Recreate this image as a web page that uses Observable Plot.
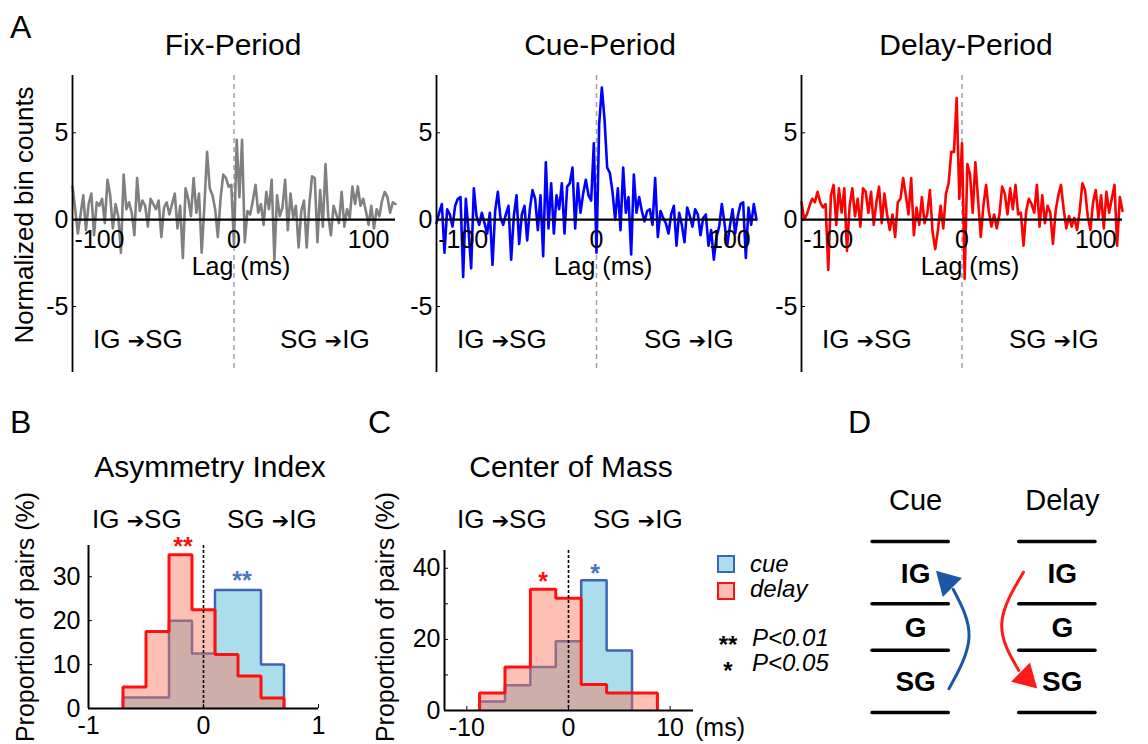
<!DOCTYPE html>
<html><head><meta charset="utf-8">
<script src="https://cdn.jsdelivr.net/npm/d3@7"></script>
<script src="https://cdn.jsdelivr.net/npm/@observablehq/plot@0.6"></script>
<style>
body{margin:0;background:#fff;}
#fig{position:relative;width:1148px;height:744px;overflow:hidden;background:#fff;font-family:"Liberation Sans",Arial,Helvetica,sans-serif;color:#000;}
.lbl{position:absolute;white-space:nowrap;line-height:1;}
.arr{font-family:"DejaVu Sans",sans-serif;font-size:0.8em;}
.sq{position:absolute;box-sizing:border-box;width:18px;height:18px;border:2px solid;}
</style></head><body><div id="fig"></div>
<script>
// ---------------- DATA ----------------
const lags = [-120,-118,-116,-114,-112,-110,-108,-106,-104,-102,-100,-98,-96,-94,-92,-90,-88,-86,-84,-82,-80,-78,-76,-74,-72,-70,-68,-66,-64,-62,-60,-58,-56,-54,-52,-50,-48,-46,-44,-42,-40,-38,-36,-34,-32,-30,-28,-26,-24,-22,-20,-18,-16,-14,-12,-10,-8,-6,-4,-2,0,2,4,6,8,10,12,14,16,18,20,22,24,26,28,30,32,34,36,38,40,42,44,46,48,50,52,54,56,58,60,62,64,66,68,70,72,74,76,78,80,82,84,86,88,90,92,94,96,98,100,102,104,106,108,110,112,114,116,118,120];
const fixCounts = [1.9,0.6,-0.8,0.3,1.4,-0.6,0.9,1.5,-0.9,1.0,
 0.8,1.2,-0.2,2.3,1.4,-0.5,0.9,0.2,-1.9,2.6,
 0.6,1.0,0.4,-0.9,2.4,0.5,1.1,0.8,-0.4,1.2,
 0.9,0.6,1.1,-1.0,0.7,1.0,0.3,0.9,1.5,-0.5,
 0.8,-2.2,1.8,1.2,0.2,2.4,0.4,1.5,-1.9,0.8,
 3.9,1.8,1.4,0.6,-1.0,1.2,2.6,2.4,1.9,2.0,
 -1.5,4.6,1.3,4.6,-1.3,0.5,0.3,1.1,2.0,0.4,
 0.9,-0.3,1.6,0.6,2.3,-2.3,1.4,0.2,0.7,2.3,
 -0.6,1.5,0.1,0.8,-1.6,0.5,1.1,-1.6,0.9,2.5,
 2.4,-1.3,1.7,-0.4,3.2,0.2,-0.9,0.8,0.3,-0.2,
 1.6,-0.4,0.6,0.1,1.9,0.9,1.9,0.8,1.2,0.5,
 -0.3,0.8,-0.5,0.6,0.2,1.1,1.6,1.3,0.4,1.0,
 0.9];
const cueCounts = [-0.2,0.4,0.9,-1.9,0.6,0.3,-0.4,0.8,1.2,1.3,
 -3.3,1.2,-0.6,-2.8,1.8,0.2,-0.3,0.4,-0.2,-0.8,
 0.4,-2.6,0.5,1.6,0.1,-0.3,0.3,0.8,-2.3,0.2,
 1.4,-1.4,0.3,0.8,-1.2,0.6,1.7,1.2,-0.6,1.4,
 -2.1,3.3,-0.5,2.1,-0.8,1.4,0.6,2.1,-0.8,1.9,
 2.1,3.0,-0.5,2.1,0.4,1.5,2.3,1.4,1.1,4.4,
 -1.9,5.5,7.6,5.8,3.0,2.7,1.6,0.0,1.8,-0.6,
 3.0,0.4,1.3,-2.0,2.6,0.4,1.3,0.5,-0.1,0.5,
 0.6,-0.3,2.4,-1.0,0.5,0.1,-0.2,-0.8,0.3,0.8,
 -1.5,0.4,-0.3,-1.3,0.7,0.2,-0.4,0.6,0.3,-0.9,
 0.1,0.3,-1.5,-0.6,-2.3,-1.0,-0.4,0.9,-0.2,-1.5,
 -0.4,0.6,-0.8,0.2,0.9,1.0,-2.2,0.7,-0.3,0.9,
 0.0];
const delayCounts = [1.0,0.0,0.3,0.8,1.2,1.0,1.6,1.0,0.7,0.9,
 -2.9,1.4,2.0,-0.3,1.8,0.4,1.8,-1.8,0.8,1.8,
 0.2,1.2,-0.4,1.8,1.6,0.4,1.6,-0.3,1.0,1.9,
 -0.2,1.5,0.3,-0.6,0.3,-1.0,1.0,1.2,2.4,1.4,
 0.3,2.4,-0.9,0.7,-0.3,1.3,-0.2,0.3,1.7,-0.7,
 -1.7,-0.6,0.8,-0.5,1.5,2.1,3.9,3.9,7.0,1.2,
 4.4,-3.4,3.2,2.6,0.4,3.3,1.2,-1.0,0.8,2.0,
 0.5,-0.4,0.3,-0.5,0.3,1.9,1.5,0.3,1.8,0.6,
 2.0,0.3,0.4,-1.5,0.5,1.2,0.9,0.4,2.0,-0.4,
 1.4,-0.2,0.8,0.4,-1.4,0.5,1.4,2.0,0.6,-0.5,
 0.2,-0.4,0.1,-0.6,0.5,2.1,1.7,0.2,-0.6,1.0,
 1.7,0.1,1.4,-0.5,1.6,0.4,1.2,2.0,-1.5,1.3,
 0.5];
const lagTicks = [-100, 0, 100];
const countTicks = [-5, 0, 5];

const aiEdges = [-0.7,-0.5,-0.3,-0.1,0.1,0.3,0.5,0.7];
const aiCue   = [2.5,2.5,20,12.5,27,27,10];
const aiDelay = [4.9,17.5,35,22.5,12.3,7.4,2.4];
const aiXTicks = [-1, 0, 1];
const aiYTicks = [0, 10, 20, 30];

const comEdges = [-8.75,-6.25,-3.75,-1.25,1.25,3.75,6.25,8.75];
const comCue   = [2.5,7.1,12.2,19.5,36.6,16.9];
const comDelay = [4.9,12.2,34.1,31.6,7.3,4.9,4.9];
const comXTicks = [-10, 0, 10];
const comYTicks = [0, 10, 20, 30, 40];

const columns = ["Cue", "Delay"];
const layerNames = ["IG", "G", "SG"];
const layerBounds = [0, 1, 1.75, 2.75];

// ---------------- STYLE ----------------
const FONT = '"Liberation Sans", Arial, Helvetica, sans-serif';
const W = 1148, H = 744;
const fig = document.getElementById("fig");
const baseStyle = {position:"absolute", left:"0px", top:"0px", background:"transparent", overflow:"visible", fontFamily: FONT, fontSize:"25px"};
const cueFill = "#a9deea", cueStroke = "#4064b4";
const delayFill = "rgb(248,115,89)", delayStroke = "#ff1010";

// ---------------- PANEL A ----------------
const lagDomain = [-120, 120];
const countDomain = [-8.8, 8.3];
function panelA(vals, color, left, right) {
  const data = lags.map((x, i) => ({x, y: vals[i]}));
  return Plot.plot({
    width: W, height: H,
    marginLeft: left, marginRight: W - right, marginTop: 75, marginBottom: H - 372,
    style: baseStyle,
    x: {domain: lagDomain, axis: null},
    y: {domain: countDomain, axis: null},
    marks: [
      Plot.ruleX([0], {stroke: "#a0a0a0", strokeDasharray: "5,4", strokeWidth: 1.5}),
      Plot.line(data, {x: "x", y: "y", stroke: color, strokeWidth: 2.6, strokeLinejoin: "round"}),
      Plot.ruleY([0], {stroke: "#000", strokeWidth: 2.2}),
      Plot.ruleX([lagDomain[0]], {stroke: "#000", strokeWidth: 1.8}),
      Plot.axisY(countTicks, {tickSize: -4, tickPadding: 8, fontSize: 25, label: null, tickFormat: d => String(d)}),
      Plot.text(lagTicks, {x: d => d, y: 0, text: d => String(d), lineAnchor: "bottom", dy: 28, fontSize: 25})
    ]
  });
}
fig.appendChild(panelA(fixCounts, "#808080", 72, 395));
fig.appendChild(panelA(cueCounts, "#0000ff", 436, 756));
fig.appendChild(panelA(delayCounts, "#ff0000", 801, 1122));

// ---------------- PANELS B & C ----------------
function stairs(edges, values) {
  const pts = [{x: edges[0], y: 0}];
  values.forEach((v, i) => pts.push({x: edges[i], y: v}));
  pts.push({x: edges[values.length], y: values[values.length - 1]});
  pts.push({x: edges[values.length], y: 0});
  return pts;
}
function histPanel(o) {
  const c = stairs(o.edges, o.cue), d = stairs(o.edges, o.delay);
  return Plot.plot({
    width: W, height: H,
    marginLeft: o.left, marginRight: W - o.right, marginTop: o.top, marginBottom: H - o.bottom,
    style: baseStyle,
    x: {domain: o.xDomain, axis: null},
    y: {domain: o.yDomain, axis: null},
    marks: [
      Plot.areaY(c, {x: "x", y: "y", curve: "step-after", fill: cueFill}),
      Plot.lineY(c, {x: "x", y: "y", curve: "step-after", stroke: cueStroke, strokeWidth: 2.5, strokeLinejoin: "miter", strokeLinecap: "butt"}),
      Plot.areaY(d, {x: "x", y: "y", curve: "step-after", fill: delayFill, fillOpacity: 0.45}),
      Plot.lineY(d, {x: "x", y: "y", curve: "step-after", stroke: delayStroke, strokeWidth: 3, strokeLinejoin: "miter", strokeLinecap: "butt"}),
      Plot.ruleX([0], {stroke: "#000", strokeDasharray: "3,2", strokeWidth: 1.6}),
      Plot.ruleX([o.xDomain[0]], {stroke: "#000", strokeWidth: 2}),
      Plot.ruleY([0], {stroke: "#000", strokeWidth: 2}),
      Plot.axisY(o.yTicks, {tickSize: -4, tickPadding: o.yPad, fontSize: 25, label: null, tickFormat: o.yFormat}),
      Plot.axisX(o.xTicks, {tickSize: -4, tickPadding: 12, fontSize: 25, label: null, tickFormat: d => String(d)})
    ]
  });
}
fig.appendChild(histPanel({edges: aiEdges, cue: aiCue, delay: aiDelay, left: 88, right: 318, top: 545, bottom: 708,
  xDomain: [-1, 1], yDomain: [0, 37.1], xTicks: aiXTicks, yTicks: aiYTicks, yPad: 12, yFormat: d => String(d)}));
fig.appendChild(histPanel({edges: comEdges, cue: comCue, delay: comDelay, left: 444, right: 693, top: 550, bottom: 710,
  xDomain: [-12.2, 12.3], yDomain: [0, 45], xTicks: comXTicks, yTicks: comYTicks, yPad: 8, yFormat: d => d % 20 === 0 ? String(d) : ""}));

// ---------------- PANEL D ----------------
const half = 0.26;
const boundRules = columns.flatMap((c, ci) => layerBounds.map(b => ({c: ci, y: b})));
const layerLabels = columns.flatMap((c, ci) => layerNames.map((n, li) => ({c: ci, name: n, y: (layerBounds[li] + layerBounds[li + 1]) / 2})));
const cueArrow = [{x: 0.261, y: 2.368}, {x: 0.398, y: 1.538}, {x: 0.290, y: 0.769}];
const cueHead = [{x: 0.247, y: 0.650}];
const delayArrow = [{x: 0.769, y: 0.494}, {x: 0.621, y: 1.323}, {x: 0.737, y: 2.074}];
const delayHead = [{x: 0.787, y: 2.188}];
fig.appendChild(Plot.plot({
  width: W, height: H,
  marginLeft: 872, marginRight: W - 1095, marginTop: 541, marginBottom: H - 712,
  style: baseStyle,
  x: {domain: [-half, 1 + half], axis: null},
  y: {domain: [0, 2.75], reverse: true, axis: null},
  marks: [
    Plot.ruleY(boundRules, {y: "y", x1: d => d.c - half, x2: d => d.c + half, stroke: "#000", strokeWidth: 3.5, strokeLinecap: "round"}),
    Plot.text(layerLabels, {x: "c", y: "y", text: "name", fontSize: 28, fontWeight: "bold", dx: 5, dy: 1}),
    Plot.text(columns, {x: (d, i) => i, y: -0.65, text: d => d, fontSize: 29, dx: 5}),
    Plot.line(cueArrow, {x: "x", y: "y", curve: "natural", stroke: "#1a57a5", strokeWidth: 3}),
    Plot.dot(cueHead, {x: "x", y: "y", symbol: "triangle", r: 10, fill: "#1a57a5", rotate: -44.6}),
    Plot.line(delayArrow, {x: "x", y: "y", curve: "natural", stroke: "#ff1a1a", strokeWidth: 3}),
    Plot.dot(delayHead, {x: "x", y: "y", symbol: "triangle", r: 10, fill: "#ff1a1a", rotate: 134.4})
  ]
}));

// ---------------- TEXT ----------------
function label(html, x, baseline, size, opt = {}) {
  const el = document.createElement("div");
  el.className = "lbl";
  el.innerHTML = html;
  el.style.fontSize = size + "px";
  if (opt.weight) el.style.fontWeight = opt.weight;
  if (opt.italic) el.style.fontStyle = "italic";
  if (opt.color) el.style.color = opt.color;
  if (opt.rotate) {
    el.style.left = x + "px";
    el.style.top = baseline + "px";
    el.style.transformOrigin = "0 0";
    el.style.transform = `rotate(-90deg) translate(-50%, -${0.8465 * size}px)`;
  } else {
    el.style.left = x + "px";
    el.style.top = (baseline - 0.8465 * size) + "px";
    if (opt.anchor === "middle") el.style.transform = "translateX(-50%)";
  }
  fig.appendChild(el);
}
const arr = '<span class="arr">➔</span>';
label("A", 10, 38, 32);
label("Fix-Period", 233, 55, 30, {anchor: "middle"});
label("Cue-Period", 600, 55, 30, {anchor: "middle"});
label("Delay-Period", 966, 55, 30, {anchor: "middle"});
label("Normalized bin counts", 33, 215, 26, {rotate: true});
[241, 603, 970].forEach(x => label("Lag (ms)", x, 275, 25, {anchor: "middle"}));
[0, 364, 729].forEach(dx => {
  label(`IG ${arr}SG`, 93 + dx, 348, 26);
  label(`SG ${arr}IG`, 280 + dx, 348, 26);
});
label("B", 10, 433, 32);
label("C", 368, 433, 32);
label("D", 848, 433, 32);
label("Asymmetry Index", 210, 477, 30, {anchor: "middle"});
label("Center of Mass", 571, 477, 30, {anchor: "middle"});
label(`IG ${arr}SG`, 92, 528, 26);
label(`SG ${arr}IG`, 227, 528, 26);
label(`IG ${arr}SG`, 457, 528, 26);
label(`SG ${arr}IG`, 593, 528, 26);
label("Proportion of pairs (%)", 34, 617, 25, {rotate: true});
label("Proportion of pairs (%)", 394, 617, 25, {rotate: true});
label("(ms)", 695, 736, 25);
label("**", 183, 555, 25, {anchor: "middle", weight: "bold", color: "#ff1010"});
label("**", 242, 589, 25, {anchor: "middle", weight: "bold", color: "#4a78c0"});
label("*", 543, 590, 25, {anchor: "middle", weight: "bold", color: "#ff1010"});
label("*", 595, 582, 25, {anchor: "middle", weight: "bold", color: "#4a78c0"});
// legend
[[cueFill, cueStroke, 555], ["rgb(252,190,180)", delayStroke, 582]].forEach(([f, s, y]) => {
  const sq = document.createElement("div");
  sq.className = "sq";
  sq.style.left = "717px"; sq.style.top = y + "px";
  sq.style.background = f; sq.style.borderColor = s;
  fig.appendChild(sq);
});
label("cue", 750, 572, 24, {italic: true});
label("delay", 750, 597, 24, {italic: true});
label("**", 728, 653, 24, {anchor: "middle", weight: "bold"});
label("P&lt;0.01", 752, 646, 24, {italic: true});
label("*", 728, 679, 24, {anchor: "middle", weight: "bold"});
label("P&lt;0.05", 752, 671, 24, {italic: true});
</script></body></html>
